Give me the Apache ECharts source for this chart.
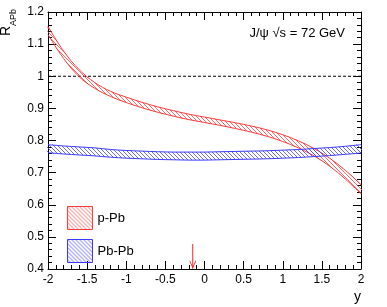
<!DOCTYPE html>
<html>
<head>
<meta charset="utf-8">
<script src="https://cdn.jsdelivr.net/npm/echarts@6/dist/echarts.min.js"></script>
<style>
html,body{margin:0;padding:0;background:#fff;}
#chart{width:387px;height:307px;}
</style>
</head>
<body>
<div id="chart"></div>
<script>
// ---- data ----
const rapidity = [-2, -1.8, -1.6, -1.4, -1.2, -1.0, -0.8, -0.6, -0.4, -0.2, 0, 0.2, 0.4, 0.6, 0.8, 1.0, 1.2, 1.4, 1.6, 1.8, 2.0];
const pPbUpper = [1.155, 1.078, 1.020, 0.980, 0.953, 0.935, 0.919, 0.905, 0.893, 0.882, 0.873, 0.864, 0.855, 0.845, 0.833, 0.818, 0.799, 0.775, 0.745, 0.707, 0.663];
const pPbLower = [1.130, 1.055, 0.998, 0.962, 0.937, 0.918, 0.902, 0.888, 0.876, 0.865, 0.856, 0.847, 0.837, 0.826, 0.813, 0.797, 0.777, 0.752, 0.720, 0.680, 0.634];
const PbPbUpper = [0.787, 0.783, 0.780, 0.777, 0.772, 0.769, 0.767, 0.765, 0.764, 0.764, 0.764, 0.765, 0.766, 0.767, 0.768, 0.770, 0.772, 0.775, 0.778, 0.782, 0.787];
const PbPbLower = [0.762, 0.758, 0.755, 0.752, 0.748, 0.745, 0.743, 0.741, 0.740, 0.739, 0.739, 0.740, 0.741, 0.742, 0.743, 0.745, 0.747, 0.750, 0.753, 0.757, 0.761];
const xTickLabels = ['-2', '-1.5', '-1', '-0.5', '0', '0.5', '1', '1.5', '2'];
const yTickLabels = ['0.4', '0.5', '0.6', '0.7', '0.8', '0.9', '1', '1.1', '1.2'];
const referenceLine = [[-2, 1.0], [2, 1.0]];
const arrowPoints = [[-0.15, 0.478], [-0.15, 0.401]];
const seriesNames = ['p-Pb', 'Pb-Pb'];

// ---- styling helpers ----
const RED = '#ff3b3b', BLUE = '#3b3bff';
const FONT = 'Liberation Sans, Arial, Helvetica, sans-serif';
const SMOOTH = 0.35;
function hatch(color) {
  const c = document.createElement('canvas');
  c.width = 4; c.height = 4;
  const g = c.getContext('2d');
  g.strokeStyle = color; g.lineWidth = 0.9;
  g.beginPath();
  g.moveTo(-1, -1); g.lineTo(5, 5);
  g.moveTo(-1, 3); g.lineTo(1, 5);
  g.moveTo(3, -1); g.lineTo(5, 1);
  g.stroke();
  return { image: c, repeat: 'repeat' };
}
const redHatch = hatch('rgba(255,60,60,0.85)');
const blueHatch = hatch('rgba(60,60,255,0.85)');

function bandSeries(name, lower, upper, lineColor, fill) {
  return {
    name: name, type: 'custom', coordinateSystem: 'cartesian2d',
    data: rapidity.map((x, i) => [x, lower[i], upper[i]]),
    encode: { x: 0, y: [1, 2] },
    itemStyle: { color: fill, borderColor: lineColor },
    renderItem: function (params, api) {
      if (params.dataIndex !== 0) return null;
      const up = rapidity.map((x, i) => api.coord([x, upper[i]]));
      const lo = rapidity.map((x, i) => api.coord([x, lower[i]]));
      const poly = up.concat(lo.slice().reverse());
      return {
        type: 'group',
        children: [
          { type: 'polygon', shape: { points: poly, smooth: SMOOTH }, style: { fill: fill, stroke: null } },
          { type: 'polyline', shape: { points: up, smooth: SMOOTH }, style: { fill: null, stroke: lineColor, lineWidth: 1 } },
          { type: 'polyline', shape: { points: lo, smooth: SMOOTH }, style: { fill: null, stroke: lineColor, lineWidth: 1 } }
        ]
      };
    }
  };
}

function xAx(pos) {
  return {
    type: 'value', min: -2, max: 2, interval: 0.5, position: pos,
    axisLine: { show: true, onZero: false, lineStyle: { color: '#000', width: 1 } },
    axisTick: { show: true, inside: true, length: 8, lineStyle: { color: '#000' } },
    minorTick: { show: true, splitNumber: 5, length: 4, lineStyle: { color: '#000' } },
    splitLine: { show: false }, minorSplitLine: { show: false },
    axisLabel: pos === 'bottom' ? {
      show: true, margin: 5, color: '#000', fontSize: 12, fontFamily: FONT,
      formatter: (v) => xTickLabels[Math.round((v + 2) / 0.5)]
    } : { show: false }
  };
}
function yAx(pos) {
  return {
    type: 'value', min: 0.4, max: 1.2, interval: 0.1, position: pos,
    axisLine: { show: true, onZero: false, lineStyle: { color: '#000', width: 1 } },
    axisTick: { show: true, inside: true, length: 8, lineStyle: { color: '#000' } },
    minorTick: { show: true, splitNumber: 5, length: 4, lineStyle: { color: '#000' } },
    splitLine: { show: false }, minorSplitLine: { show: false },
    axisLabel: pos === 'left' ? {
      show: true, margin: 4, color: '#000', fontSize: 12, fontFamily: FONT,
      formatter: (v) => yTickLabels[Math.round((v - 0.4) / 0.1)]
    } : { show: false }
  };
}

const chart = echarts.init(document.getElementById('chart'), null, { renderer: 'canvas' });
chart.setOption({
  animation: false,
  backgroundColor: '#fff',
  grid: { left: 48, top: 12, width: 313, height: 257, containLabel: false },
  xAxis: [xAx('bottom'), xAx('top')],
  yAxis: [yAx('left'), yAx('right')],
  legend: {
    orient: 'vertical', left: 62, top: 201, itemWidth: 25, itemHeight: 23, itemGap: 9,
    textStyle: { fontSize: 13, color: '#000', fontFamily: FONT },
    data: [
      { name: seriesNames[0], icon: 'rect', itemStyle: { color: redHatch, borderColor: RED, borderWidth: 1 } },
      { name: seriesNames[1], icon: 'rect', itemStyle: { color: blueHatch, borderColor: BLUE, borderWidth: 1 } }
    ],
    selectedMode: false
  },
  series: [
    {
      name: 'reference', type: 'line', data: referenceLine, symbol: 'none', silent: true,
      lineStyle: { color: '#000', width: 1, type: [3, 2] }, z: 1
    },
    bandSeries(seriesNames[0], pPbLower, pPbUpper, RED, redHatch),
    bandSeries(seriesNames[1], PbPbLower, PbPbUpper, BLUE, blueHatch),
    {
      name: 'arrow', type: 'line', silent: true, showSymbol: true,
      data: [
        { value: arrowPoints[0], symbol: 'none' },
        { value: arrowPoints[1], symbol: 'path://M5,0 L10,10 L8.8,10 L5,2.4 L1.2,10 L0,10 Z', symbolSize: [7, 8], symbolRotate: 180, symbolOffset: [0, -4] }
      ],
      lineStyle: { color: '#ff2020', width: 1 }, itemStyle: { color: '#ff2020' }
    }
  ],
  graphic: [
    { type: 'text', x: 13.5, y: 36, rotation: Math.PI / 2,
      style: { text: 'R', font: '14px ' + FONT, fill: '#000', align: 'left', verticalAlign: 'bottom' } },
    { type: 'text', x: 18, y: 26, rotation: Math.PI / 2,
      style: { text: 'APb', font: '9px ' + FONT, fill: '#000', align: 'left', verticalAlign: 'bottom' } },
    { type: 'text', x: 361, y: 297,
      style: { text: 'y', font: '14px ' + FONT, fill: '#000', align: 'right', verticalAlign: 'middle' } },
    { type: 'text', x: 345, y: 33,
      style: { text: 'J/\u03C8 \u221As = 72 GeV', font: '13px ' + FONT, fill: '#000', align: 'right', verticalAlign: 'middle' } }
  ]
});
</script>
</body>
</html>
